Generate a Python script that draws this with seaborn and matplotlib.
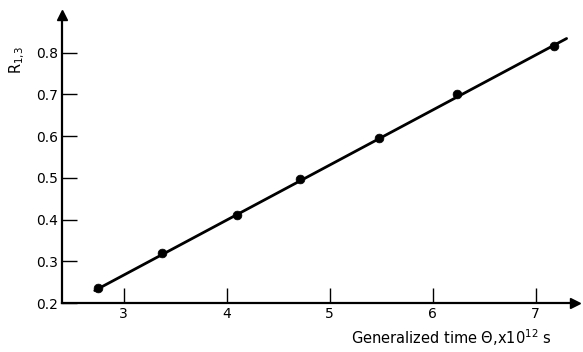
import numpy as np
import pandas as pd
import seaborn as sns
import matplotlib.pyplot as plt

# Data
theta = [2.75, 3.37, 4.10, 4.71, 5.48, 6.24, 7.18]
r13 = [0.236, 0.321, 0.410, 0.498, 0.596, 0.700, 0.816]

# fitted straight line end points
fit_theta = [2.72, 7.30]
fit_r13 = [0.230, 0.834]

x_ticks = [3, 4, 5, 6, 7]
y_ticks = [0.2, 0.3, 0.4, 0.5, 0.6, 0.7, 0.8]
y_tick_labels = ['0.2', '0.3', '0.4', '0.5', '0.6', '0.7', '0.8']

pts = pd.DataFrame({'theta': theta, 'r13': r13})
fit = pd.DataFrame({'theta': fit_theta, 'r13': fit_r13})

sns.set_style('ticks')
plt.rcParams['font.family'] = ['DejaVu Sans']
plt.rcParams['text.color'] = 'black'

fig = plt.figure(figsize=(5.83, 3.52), dpi=100)
ax = fig.add_axes([0.106, 0.139, 0.880, 0.818])

sns.lineplot(data=fit, x='theta', y='r13', color='black', linewidth=2.0, ax=ax)
sns.scatterplot(data=pts, x='theta', y='r13', color='black', s=40, edgecolor='black', zorder=3, ax=ax)

ax.set_xlim(2.4, 7.38)
ax.set_ylim(0.2, 0.89)
ax.set_xticks(x_ticks)
ax.set_yticks(y_ticks)
ax.set_yticklabels(y_tick_labels)
ax.tick_params(direction='in', length=11, width=1.0, labelsize=10, colors='black', pad=3)

for side in ['top', 'right']:
    ax.spines[side].set_visible(False)
for side in ['left', 'bottom']:
    ax.spines[side].set_linewidth(1.6)
    ax.spines[side].set_color('black')

# arrow heads at the end of the axes
ax.plot(1, 0, '>', color='black', markersize=7, transform=ax.transAxes, clip_on=False)
ax.plot(0, 1, '^', color='black', markersize=7, transform=ax.transAxes, clip_on=False)

ax.set_xlabel('')
ax.set_ylabel('')
fig.text(0.775, 0.04, r'Generalized time $\Theta$,x10$^{12}$ s', ha='center', va='center',
         fontsize=10.5, color='black')
fig.text(0.03, 0.83, r'R$_{1{,}3}$', rotation=90, ha='center', va='center', fontsize=10.5, color='black')

fig.savefig('out.png', dpi=100)
